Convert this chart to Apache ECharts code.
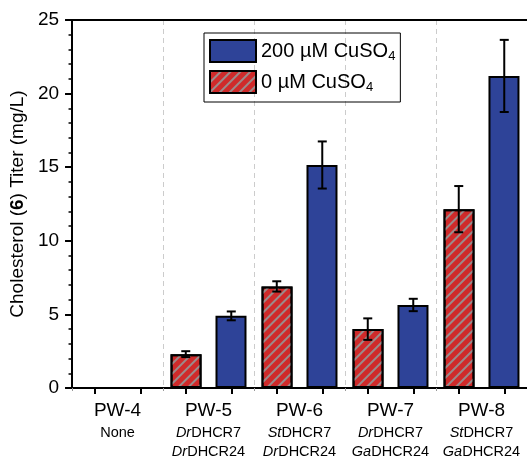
<!DOCTYPE html>
<html lang="en">
<head>
    <meta charset="utf-8">
    <title>Cholesterol titer</title>
    <script src="https://cdn.jsdelivr.net/npm/echarts@6/dist/echarts.min.js"></script>
    <style>
        html, body { margin: 0; padding: 0; background: #fff; }
        #chart { width: 527px; height: 459px; }
    </style>
</head>
<body>
    <div id="chart"></div>
    <script>
        // data
        var strains = ['PW-4', 'PW-5', 'PW-6', 'PW-7', 'PW-8'];
        var dhcr7Src = ['', 'Dr', 'St', 'Dr', 'St'];
        var dhcr24Src = ['', 'Dr', 'Dr', 'Ga', 'Ga'];
        var cu0 = [0, 2.3, 6.9, 4.0, 12.15];
        var cu0Err = [0, 0.2, 0.35, 0.73, 1.57];
        var cu200 = [0, 4.9, 15.15, 5.64, 21.2];
        var cu200Err = [0, 0.3, 1.6, 0.42, 2.45];
        var yTicks = [0, 5, 10, 15, 20, 25];

        var FONT = 'Liberation Sans';
        var red = '#CF2A2A';
        var blue = '#2E4398';

        // error bars sit on a 10-slot axis so each slot lines up with one bar
        var errData = [];
        for (var i = 0; i < strains.length; i++) {
            errData.push([2 * i, cu0[i], cu0Err[i]]);
            errData.push([2 * i + 1, cu200[i], cu200Err[i]]);
        }
        var slots = [];
        for (var k = 0; k < 10; k++) slots.push('s' + k);

        // zero-height bars are not drawn in the figure
        function barItems(vals) {
            return vals.map(function (v) {
                return v === 0 ? { value: 0, itemStyle: { opacity: 0 } } : v;
            });
        }

        function renderErr(params, api) {
            var idx = api.value(0);
            var v = api.value(1);
            var e = api.value(2);
            if (!e) return;
            var hi = api.coord([idx, v + e]);
            var lo = api.coord([idx, v - e]);
            var half = 4.5;
            var st = { stroke: '#000', lineWidth: 2 };
            return {
                type: 'group',
                children: [
                    { type: 'line', shape: { x1: hi[0], y1: hi[1], x2: lo[0], y2: lo[1] }, style: st },
                    { type: 'line', shape: { x1: hi[0] - half, y1: hi[1], x2: hi[0] + half, y2: hi[1] }, style: st },
                    { type: 'line', shape: { x1: lo[0] - half, y1: lo[1], x2: lo[0] + half, y2: lo[1] }, style: st }
                ]
            };
        }

        var chart = echarts.init(document.getElementById('chart'));
        var option = {
            animation: false,
            textStyle: { fontFamily: FONT, color: '#000' },
            grid: { left: 72, right: 0, top: 20, bottom: 71 },
            legend: {
                data: ['200 µM CuSO4', '0 µM CuSO4'],
                orient: 'vertical',
                left: 204,
                top: 33,
                icon: 'rect',
                itemWidth: 46,
                itemHeight: 22,
                itemGap: 7,
                padding: [6, 5, 8, 5],
                borderColor: '#000',
                borderWidth: 1,
                formatter: function (name) {
                    return '{a|' + name.slice(0, -1) + '}{s|4}';
                },
                textStyle: {
                    fontSize: 20,
                    rich: {
                        a: { fontFamily: FONT, fontSize: 20, color: '#000' },
                        s: { fontFamily: FONT, fontSize: 13, color: '#000', padding: [10, 0, 0, 0] }
                    }
                }
            },
            xAxis: [{
                type: 'category',
                data: strains,
                axisLine: { lineStyle: { color: '#000', width: 2 } },
                axisTick: { show: true, length: 3, lineStyle: { color: '#999', type: 'dashed' } },
                splitLine: { show: true, lineStyle: { color: '#ccc', type: [5, 4] } },
                axisLabel: {
                    margin: 11,
                    interval: 0,
                    formatter: function (v, i) {
                        if (!dhcr7Src[i]) return '{pw|' + v + '}\n{n|None}';
                        return '{pw|' + v + '}\n{it|' + dhcr7Src[i] + '}{n|DHCR7}\n{it|' + dhcr24Src[i] + '}{n|DHCR24}';
                    },
                    rich: {
                        pw: { fontFamily: FONT, fontSize: 19, lineHeight: 24, color: '#000' },
                        n: { fontFamily: FONT, fontSize: 14.5, lineHeight: 19, color: '#000' },
                        it: { fontFamily: FONT, fontSize: 14.5, lineHeight: 19, fontStyle: 'italic', color: '#000' }
                    }
                }
            }, {
                type: 'category',
                data: slots,
                position: 'bottom',
                axisLine: { show: false },
                axisTick: { show: true, alignWithLabel: true, inside: false, length: 6, lineStyle: { color: '#000', width: 2 } },
                axisLabel: { show: false },
                splitLine: { show: false }
            }, {
                type: 'category',
                data: strains,
                position: 'top',
                axisLine: { lineStyle: { color: '#000', width: 2 } },
                axisTick: { show: false },
                axisLabel: { show: false },
                splitLine: { show: false }
            }],
            yAxis: {
                type: 'value',
                min: yTicks[0],
                max: yTicks[yTicks.length - 1],
                interval: 5,
                name: '{t|Cholesterol (}{b|6}{t|) Titer (mg/L)}',
                nameLocation: 'middle',
                nameGap: 40,
                nameTextStyle: {
                    rich: {
                        t: { fontFamily: FONT, fontSize: 19, color: '#000' },
                        b: { fontFamily: FONT, fontSize: 19, fontWeight: 'bold', color: '#000' }
                    }
                },
                axisLine: { show: true, lineStyle: { color: '#000', width: 2 } },
                axisTick: { show: true, length: 7, lineStyle: { color: '#000', width: 2 } },
                minorTick: { show: true, splitNumber: 5, length: 3.5, lineStyle: { color: '#000', width: 1.5 } },
                splitLine: { show: false },
                axisLabel: { fontFamily: FONT, fontSize: 19, color: '#000', margin: 13 }
            },
            series: [{
                name: '0 µM CuSO4',
                type: 'bar',
                data: barItems(cu0),
                barWidth: 31,
                barGap: '45%',
                itemStyle: {
                    color: red,
                    borderColor: '#000',
                    borderWidth: 2,
                    decal: {
                        symbol: 'rect',
                        symbolSize: 1,
                        dashArrayX: [1, 0],
                        dashArrayY: [2, 5],
                        rotation: -Math.PI / 4,
                        color: 'rgba(150,150,150,0.9)'
                    }
                }
            }, {
                name: '200 µM CuSO4',
                type: 'bar',
                data: barItems(cu200),
                barWidth: 31,
                itemStyle: { color: blue, borderColor: '#000', borderWidth: 2 }
            }, {
                type: 'custom',
                xAxisIndex: 1,
                renderItem: renderErr,
                data: errData,
                z: 5
            }]
        };
        chart.setOption(option);
    </script>
</body>
</html>
